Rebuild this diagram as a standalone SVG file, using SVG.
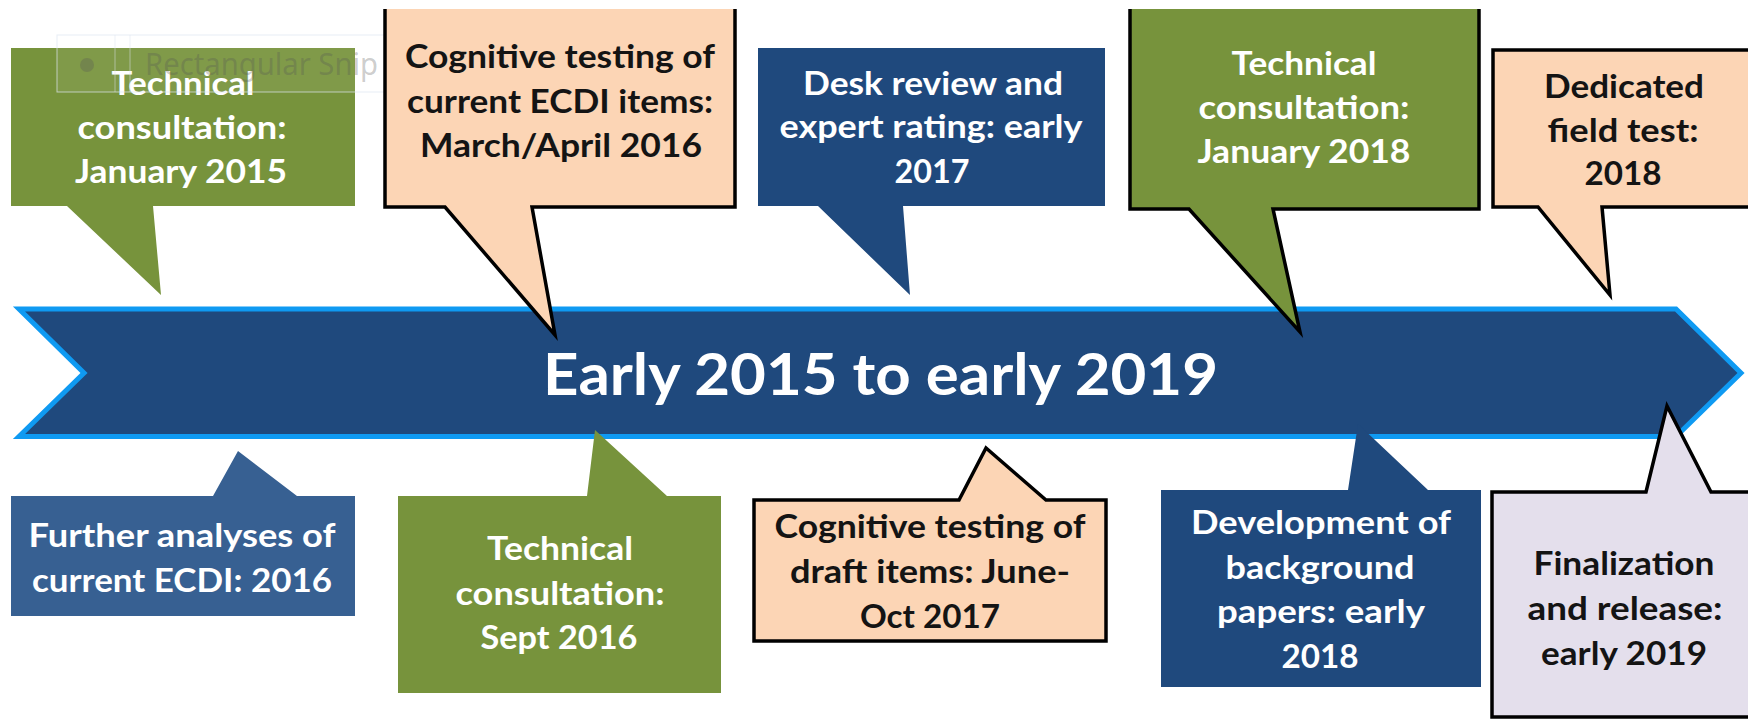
<svg xmlns="http://www.w3.org/2000/svg" width="1748" height="721" viewBox="0 0 1748 721">
  <defs>
    <style>
      .t { font-family: Lato, "Liberation Sans", sans-serif; font-weight: 700; font-size: 33px; text-anchor: middle; }
      .w { fill: #ffffff; }
      .k { fill: #141414; }
      .green { fill: #77933c; }
      .peach { fill: #fcd5b5; }
      .navy { fill: #1f497d; }
      .steel { fill: #376092; }
      .lav { fill: #e4dfec; }
      .bd { stroke: #000000; stroke-width: 3.5; stroke-linejoin: miter; }
      .title { font-family: Lato, "Liberation Sans", sans-serif; font-weight: 700; font-size: 58px; fill: #ffffff; }
    </style>
    <clipPath id="crop">
      <rect x="0" y="9" width="1748" height="712"/>
    </clipPath>
  </defs>
  <rect x="0" y="0" width="1748" height="721" fill="#ffffff"/>

  <g id="timeline">
    <path d="M19,309 L1676,309 L1741,373 L1676,436.5 L19,436.5 L84,373 Z" fill="#1f497d" stroke="#0f9af2" stroke-width="5" stroke-linejoin="miter"/>
    <text class="title" x="543" y="395" textLength="675" lengthAdjust="spacingAndGlyphs">Early 2015 to early 2019</text>
  </g>

  <g id="n1-tech-jan2015">
    <path class="green" d="M11,48 H355 V206 H153 L161,295 L67,206 H11 Z"/>
    <text class="t w" x="183" y="95" textLength="143" lengthAdjust="spacingAndGlyphs">Technical</text>
    <text class="t w" x="182" y="139" textLength="209" lengthAdjust="spacingAndGlyphs">consultation:</text>
    <text class="t w" x="181" y="183" textLength="212" lengthAdjust="spacingAndGlyphs">January 2015</text>
  </g>

  <g id="snip-overlay">
    <rect x="57" y="35" width="333" height="57" fill="#ffffff" fill-opacity="0.07" stroke="#dde6f1" stroke-opacity="0.7" stroke-width="1"/>
    <line x1="115" y1="35" x2="115" y2="92" stroke="#dde6f1" stroke-opacity="0.5"/>
    <line x1="130" y1="35" x2="130" y2="92" stroke="#dde6f1" stroke-opacity="0.5"/>
    <circle cx="87" cy="65" r="7" fill="#555555" fill-opacity="0.3"/>
    <text x="145" y="75" font-family="'Noto Sans', 'Open Sans', sans-serif" font-size="30" fill="#555555" fill-opacity="0.3" textLength="233" lengthAdjust="spacingAndGlyphs">Rectangular Snip</text>
  </g>

  <g id="n2-cog-2016" clip-path="url(#crop)">
    <path class="peach bd" d="M385,-10 H735 V207 H532 L555,335 L445,207 H385 Z"/>
    <text class="t k" x="560" y="68" textLength="310" lengthAdjust="spacingAndGlyphs">Cognitive testing of</text>
    <text class="t k" x="560" y="113" textLength="306" lengthAdjust="spacingAndGlyphs">current ECDI items:</text>
    <text class="t k" x="561" y="157" textLength="282" lengthAdjust="spacingAndGlyphs">March/April 2016</text>
  </g>

  <g id="n3-desk-2017">
    <path class="navy" d="M758,48 H1105 V206 H903 L910,295 L818,206 H758 Z"/>
    <text class="t w" x="933" y="95" textLength="260" lengthAdjust="spacingAndGlyphs">Desk review and</text>
    <text class="t w" x="931" y="138" textLength="303" lengthAdjust="spacingAndGlyphs">expert rating: early</text>
    <text class="t w" x="932" y="183" textLength="75" lengthAdjust="spacingAndGlyphs">2017</text>
  </g>

  <g id="n4-tech-jan2018" clip-path="url(#crop)">
    <path class="green bd" d="M1130,-10 H1479 V209 H1273 L1300,332 L1189,209 H1130 Z"/>
    <text class="t w" x="1304" y="75" textLength="145" lengthAdjust="spacingAndGlyphs">Technical</text>
    <text class="t w" x="1304" y="119" textLength="211" lengthAdjust="spacingAndGlyphs">consultation:</text>
    <text class="t w" x="1304" y="163" textLength="213" lengthAdjust="spacingAndGlyphs">January 2018</text>
  </g>

  <g id="n5-field-2018">
    <path class="peach bd" d="M1493,50 H1762 V207 H1602 L1610,295 L1538,207 H1493 Z"/>
    <text class="t k" x="1624" y="98" textLength="160" lengthAdjust="spacingAndGlyphs">Dedicated</text>
    <text class="t k" x="1623" y="142" textLength="151" lengthAdjust="spacingAndGlyphs">field test:</text>
    <text class="t k" x="1623" y="185" textLength="77" lengthAdjust="spacingAndGlyphs">2018</text>
  </g>

  <g id="n6-analyses-2016">
    <path class="steel" d="M11,496 H213 L238,451 L297,496 H355 V616 H11 Z"/>
    <text class="t w" x="182" y="547" textLength="307" lengthAdjust="spacingAndGlyphs">Further analyses of</text>
    <text class="t w" x="182" y="592" textLength="300" lengthAdjust="spacingAndGlyphs">current ECDI: 2016</text>
  </g>

  <g id="n7-tech-sept2016">
    <path class="green" d="M398,496 H587 L595,430 L667,496 H721 V693 H398 Z"/>
    <text class="t w" x="560" y="560" textLength="146" lengthAdjust="spacingAndGlyphs">Technical</text>
    <text class="t w" x="560" y="605" textLength="209" lengthAdjust="spacingAndGlyphs">consultation:</text>
    <text class="t w" x="559" y="649" textLength="157" lengthAdjust="spacingAndGlyphs">Sept 2016</text>
  </g>

  <g id="n8-cog-2017">
    <path class="peach bd" d="M754,500 H959 L986,448 L1046,500 H1106 V641 H754 Z"/>
    <text class="t k" x="930" y="538" textLength="311" lengthAdjust="spacingAndGlyphs">Cognitive testing of</text>
    <text class="t k" x="930" y="583" textLength="280" lengthAdjust="spacingAndGlyphs">draft items: June-</text>
    <text class="t k" x="930" y="628" textLength="140" lengthAdjust="spacingAndGlyphs">Oct 2017</text>
  </g>

  <g id="n9-background-2018">
    <path class="navy" d="M1161,490 H1348 L1358,424 L1428,490 H1481 V687 H1161 Z"/>
    <text class="t w" x="1321" y="534" textLength="260" lengthAdjust="spacingAndGlyphs">Development of</text>
    <text class="t w" x="1320" y="579" textLength="189" lengthAdjust="spacingAndGlyphs">background</text>
    <text class="t w" x="1321" y="623" textLength="208" lengthAdjust="spacingAndGlyphs">papers: early</text>
    <text class="t w" x="1320" y="668" textLength="77" lengthAdjust="spacingAndGlyphs">2018</text>
  </g>

  <g id="n10-final-2019">
    <path class="lav bd" d="M1492,492 H1646 L1667,406 L1711,492 H1762 V717 H1492 Z"/>
    <text class="t k" x="1624" y="575" textLength="181" lengthAdjust="spacingAndGlyphs">Finalization</text>
    <text class="t k" x="1625" y="620" textLength="195" lengthAdjust="spacingAndGlyphs">and release:</text>
    <text class="t k" x="1624" y="665" textLength="166" lengthAdjust="spacingAndGlyphs">early 2019</text>
  </g>
</svg>
